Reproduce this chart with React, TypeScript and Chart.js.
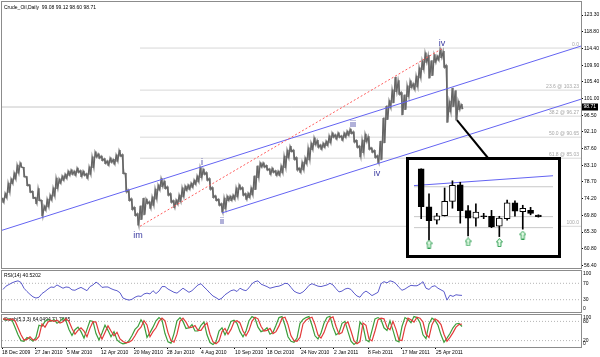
import React, { useEffect, useRef } from "react";
import { Chart, registerables } from "chart.js";

Chart.register(...registerables);

const FONT = '"Liberation Sans", Arial, sans-serif';

// ---------------- data ----------------
const priceHigh = [
  74.4, 75.7, 78.4, 79.5, 81.1, 83.2, 83.8, 82.6, 80.1, 77.9,
  76.2, 74.5, 76.9, 73.8, 72.3, 74.1, 75.2, 77.1, 79.7, 79.5,
  80.3, 80.8, 81.6, 81.9, 81.6, 82.4, 81.7, 81.6, 80.9, 82.7,
  85.4, 86.7, 86.2, 85.6, 84.9, 84.3, 85.1, 84.7, 85.9, 87.1,
  86.0, 81.0, 76.5, 74.2, 71.9, 70.2, 72.3, 74.4, 74.1, 73.4,
  74.7, 76.8, 77.9, 79.6, 78.9, 77.4, 75.6, 73.7, 73.9, 75.2,
  77.1, 77.6, 77.9, 78.4, 79.2, 80.3, 82.5, 82.1, 81.2, 79.6,
  77.2, 75.0, 74.1, 72.9, 74.4, 74.9, 74.9, 75.2, 77.1, 77.9,
  77.2, 75.6, 75.7, 77.1, 80.3, 83.0, 83.8, 83.8, 83.1, 82.2,
  82.4, 81.7, 81.6, 83.0, 85.6, 87.2, 88.2, 87.2, 85.2, 82.4,
  84.0, 85.1, 87.8, 89.1, 90.5, 89.8, 88.6, 89.1, 89.6, 91.0,
  91.8, 91.3, 91.8, 91.0, 91.8, 92.3, 92.8, 92.1, 89.8, 88.3,
  89.9, 91.5, 90.8, 87.8, 87.1, 85.7, 89.6, 95.8, 99.0, 100.4,
  103.3, 106.7, 105.8, 102.6, 102.0, 104.4, 105.7, 105.0, 107.0, 109.2,
  111.1, 113.2, 112.5, 111.1, 112.7, 112.4, 114.2, 113.6, 109.8, 100.3,
  103.8, 103.1, 100.3, 99.4
];
const priceLow = [
  73.2, 74.4, 75.9, 78.2, 79.4, 81.0, 82.6, 80.0, 77.7, 75.9,
  74.3, 72.9, 73.7, 69.6, 71.1, 72.0, 73.8, 74.9, 76.9, 78.3,
  79.1, 79.6, 80.4, 80.7, 80.4, 81.2, 80.1, 80.4, 79.6, 80.7,
  82.5, 85.3, 85.0, 84.4, 83.6, 83.1, 83.9, 83.4, 84.2, 85.6,
  80.9, 76.0, 73.7, 71.3, 69.7, 67.1, 68.6, 69.9, 72.9, 71.6,
  72.4, 74.1, 76.5, 77.4, 76.9, 75.1, 73.2, 71.8, 72.7, 73.4,
  74.7, 76.4, 76.7, 77.2, 78.0, 78.7, 79.8, 80.7, 79.1, 76.7,
  74.5, 73.7, 72.4, 70.6, 71.5, 73.7, 73.7, 74.0, 74.7, 76.7,
  75.1, 74.0, 74.5, 75.2, 76.6, 79.8, 82.6, 82.6, 81.8, 80.7,
  81.2, 80.4, 80.4, 81.1, 82.5, 85.1, 86.8, 84.7, 81.8, 81.2,
  81.9, 83.5, 84.6, 87.3, 88.6, 87.9, 87.4, 87.9, 88.4, 89.1,
  90.6, 90.1, 90.6, 89.8, 90.6, 91.1, 91.6, 89.3, 87.9, 85.4,
  86.5, 89.4, 87.4, 86.6, 85.2, 83.8, 84.6, 89.1, 95.3, 98.5,
  99.8, 102.8, 102.1, 96.6, 98.0, 101.5, 103.9, 103.4, 104.1, 106.5,
  108.7, 110.6, 106.4, 107.1, 110.6, 111.2, 111.9, 109.3, 94.6, 97.4,
  98.8, 95.2, 98.0, 98.2
];
const lastOHLC = [99.08, 99.12, 98.6, 98.71];

const rsiValues = [
  55, 63, 67, 71, 74, 76, 72, 58, 50, 43,
  37, 34, 36, 45, 50, 56, 61, 60, 66, 62,
  58, 61, 60, 54, 53, 57, 60, 56, 52, 62,
  66, 73, 68, 60, 61, 61, 57, 54, 52, 47,
  34, 31, 29, 31, 36, 39, 38, 44, 46, 44,
  52, 45, 51, 62, 62, 56, 52, 48, 46, 52,
  58, 53, 48, 52, 59, 66, 69, 61, 54, 46,
  39, 35, 30, 34, 42, 47, 52, 54, 50, 58,
  54, 52, 59, 69, 74, 76, 68, 65, 62, 58,
  60, 62, 63, 66, 70, 69, 60, 51, 47, 45,
  49, 56, 65, 69, 66, 63, 62, 64, 66, 70,
  66, 57, 49, 51, 56, 58, 55, 46, 39, 36,
  46, 51, 46, 40, 44, 48, 69, 74, 71, 76,
  74, 69, 60, 53, 56, 61, 65, 64, 64, 68,
  74, 58, 55, 62, 64, 58, 54, 50, 29, 41,
  38, 42, 41, 40.52
];
const stochSignal = [
  88, 87, 85, 88, 82, 60, 38, 22, 24, 32,
  22, 22, 33, 72, 62, 78, 83, 80, 84, 75,
  79, 88, 80, 58, 40, 52, 60, 50, 32, 59,
  79, 78, 45, 25, 45, 66, 50, 35, 46, 25,
  17, 13, 15, 21, 35, 52, 62, 82, 69, 32,
  48, 60, 80, 90, 82, 45, 20, 15, 40, 80,
  90, 78, 60, 62, 67, 52, 52, 66, 75, 40,
  16, 10, 18, 48, 58, 40, 55, 78, 82, 75,
  50, 35, 52, 80, 93, 88, 65, 50, 52, 58,
  42, 48, 66, 90, 93, 70, 35, 20, 18, 30,
  72, 84, 90, 93, 70, 38, 28, 45, 72, 90,
  94, 65, 40, 45, 72, 78, 50, 20, 10, 17,
  75, 68, 25, 19, 50, 85, 90, 88, 62, 54,
  80, 55, 22, 20, 62, 90, 85, 78, 93, 90,
  78, 40, 30, 70, 88, 82, 70, 40, 18, 30,
  45, 62, 70, 71.77
];
const stochMain = [
  87, 85, 88, 84, 62, 38, 20, 18, 30, 25,
  18, 30, 68, 65, 80, 86, 80, 86, 74, 80,
  90, 82, 55, 36, 54, 62, 48, 28, 55, 82,
  80, 42, 22, 44, 68, 52, 32, 48, 22, 14,
  10, 12, 20, 36, 55, 64, 85, 70, 30, 45,
  62, 82, 92, 84, 42, 16, 12, 42, 82, 92,
  80, 58, 60, 70, 50, 50, 68, 78, 38, 14,
  8, 16, 50, 60, 38, 56, 80, 84, 74, 48,
  32, 50, 82, 95, 90, 62, 48, 52, 60, 40,
  46, 68, 92, 95, 68, 32, 18, 15, 28, 74,
  86, 92, 95, 68, 35, 25, 44, 74, 92, 96,
  62, 38, 44, 74, 80, 48, 18, 8, 15, 78,
  66, 22, 16, 52, 88, 92, 86, 60, 52, 82,
  52, 20, 16, 64, 92, 86, 76, 95, 92, 76,
  38, 26, 72, 90, 84, 68, 38, 15, 28, 42,
  60, 72, 74, 64.05
];

const yTickValues = [123.3, 118.8, 114.4, 109.9, 105.4, 101.0, 96.5, 92.1, 87.6, 83.1, 78.7, 74.2, 69.8, 65.3, 60.8, 56.4];
const dateLabels = ["18 Dec 2009", "27 Jan 2010", "5 Mar 2010", "12 Apr 2010", "20 May 2010", "28 Jun 2010", "4 Aug 2010", "10 Sep 2010", "18 Oct 2010", "24 Nov 2010", "2 Jan 2011", "8 Feb 2011", "17 Mar 2011", "25 Apr 2011"];
const dateTickPos = [-0.33, 10.67, 21.33, 32.67, 43.67, 54.67, 66, 77.33, 88, 99.33, 110.33, 121.67, 133, 144.33];

const trendUpperX = [-0.33, 192.67];
const trendUpperY = [65.76, 115.0];
const trendLowerX = [73, 192.67];
const trendLowerY = [70.4, 100.8];
const impulseX = [45.67, 146.67];
const impulseY = [66.83, 114.47];
const fibLevels = [0, 23.6, 38.2, 50, 61.8, 100];

const waveText = ["im", "i", "ii", "iii", "iv", "iv"];
const waveX = [45, 66.33, 73, 116.67, 124.67, 146.33];
const waveY = [64.4, 84.0, 68.2, 93.9, 81.0, 115.8];
const calloutFrom = [151.33, 95.2];

const rsiLevels = [70, 30];
const rsiAxisLabels = [100, 70, 30, 0];
const stochLevels = [80, 20];
const stochAxisLabels = [100, 80, 20, 0];

// inset (zoom of last bars)
const insetOpen = [109.39, 100.91, 97.91, 98.91, 102.11, 105.79, 100.05, 98.39, 98.9, 98.79, 96.59, 98.25, 101.79, 99.79, 100.11, 99.08];
const insetHigh = [109.39, 103.79, 99.45, 105.11, 106.71, 106.39, 101.19, 101.59, 99.45, 100.11, 98.79, 102.39, 102.25, 101.25, 100.79, 99.12];
const insetLow = [98.25, 93.45, 97.05, 98.85, 100.59, 97.25, 94.39, 96.59, 98.25, 96.25, 94.25, 97.91, 98.79, 95.91, 99.11, 98.6];
const insetClose = [100.91, 97.79, 98.91, 102.11, 105.71, 100.05, 98.39, 99.71, 98.7, 96.39, 98.39, 101.79, 99.91, 100.59, 99.45, 98.71];
const insetArrowIdx = [1, 6, 10, 13];
const insetArrowVal = [92.59, 93.05, 92.91, 94.59];
const insetLineX = [-0.92, 16.87];
const insetLineY = [105.65, 107.85];
const insetLevels = [105.39, 98.71, 96.25];

// ---------------- layout ----------------
const X_MIN = -1 / 3;
const X_MAX = 192.67;
const Y_MIN = 55.68;
const Y_MAX = 126.78;
const INSET = { left: 406, top: 157, w: 149, h: 95, border: 3 };

const pts = (xs: number[], ys: number[]) => xs.map((x, i) => ({ x, y: ys[i] }));
const fibVal = (l: number) => impulseY[1] - ((impulseY[1] - impulseY[0]) * l) / 100;

const frameStroke = (chart: any) => {
  const { ctx, chartArea: a } = chart;
  ctx.save();
  ctx.strokeStyle = "#8c8c8c";
  ctx.lineWidth = 1;
  ctx.strokeRect(a.left - 0.5, a.top - 0.5, a.right - a.left + 1, a.bottom - a.top + 1);
  ctx.restore();
};

const mainDeco = {
  id: "mainDeco",
  afterDatasetsDraw(chart: any) {
    const { ctx, chartArea: a, scales } = chart;
    const xs = scales.x;
    const ys = scales.y;
    ctx.save();
    ctx.beginPath();
    ctx.rect(a.left, a.top, a.right - a.left, a.bottom - a.top);
    ctx.clip();
    ctx.font = `5px ${FONT}`;
    ctx.fillStyle = "#a6a6a6";
    ctx.textAlign = "right";
    ctx.textBaseline = "bottom";
    fibLevels.forEach((l) => {
      const v = fibVal(l);
      const t = l === 0 || l === 100 ? l.toFixed(1) : `${l.toFixed(1)} @ ${v.toFixed(2)}`;
      ctx.fillText(t, a.right - 2, ys.getPixelForValue(v) - 1);
    });
    ctx.font = `9px ${FONT}`;
    ctx.fillStyle = "#3a3aa0";
    ctx.textAlign = "center";
    ctx.textBaseline = "middle";
    waveText.forEach((t, i) => {
      ctx.fillText(t, xs.getPixelForValue(waveX[i]), ys.getPixelForValue(waveY[i]));
    });
    ctx.strokeStyle = "#000";
    ctx.lineWidth = 2;
    ctx.beginPath();
    ctx.moveTo(xs.getPixelForValue(calloutFrom[0]), ys.getPixelForValue(calloutFrom[1]));
    ctx.lineTo(INSET.left + 82, INSET.top + 1);
    ctx.stroke();
    ctx.restore();

    ctx.save();
    ctx.font = `5px ${FONT}`;
    ctx.fillStyle = "#000";
    ctx.textAlign = "left";
    ctx.textBaseline = "top";
    ctx.fillText(
      `Crude_Oil,Daily  ${lastOHLC.map((v) => v.toFixed(2)).join(" ")}`,
      a.left + 2,
      a.top + 3
    );
    ctx.restore();
  },
  afterDraw(chart: any) {
    const { ctx, chartArea: a, scales } = chart;
    frameStroke(chart);
    const py = scales.y.getPixelForValue(lastOHLC[3]);
    ctx.save();
    ctx.fillStyle = "#000";
    ctx.fillRect(a.right + 1, Math.round(py) - 3.5, 16, 7);
    ctx.fillStyle = "#fff";
    ctx.font = `5px ${FONT}`;
    ctx.textAlign = "left";
    ctx.textBaseline = "middle";
    ctx.fillText(lastOHLC[3].toFixed(2), a.right + 2.5, Math.round(py));
    ctx.restore();
  },
};

const panelDeco = (title: string, labels: number[]) => ({
  id: "panelDeco",
  beforeDatasetsDraw(chart: any) {
    const { ctx, chartArea: a } = chart;
    ctx.save();
    ctx.font = `5px ${FONT}`;
    ctx.fillStyle = "#000";
    ctx.textAlign = "left";
    ctx.textBaseline = "top";
    ctx.fillText(title, a.left + 2, a.top + 2);
    ctx.restore();
  },
  afterDraw(chart: any) {
    const { ctx, chartArea: a, scales } = chart;
    frameStroke(chart);
    ctx.save();
    ctx.font = `5px ${FONT}`;
    ctx.fillStyle = "#000";
    ctx.textAlign = "left";
    ctx.textBaseline = "middle";
    labels.forEach((v) => {
      let y = scales.y.getPixelForValue(v);
      y = Math.max(a.top + 3, Math.min(a.bottom - 3, y));
      ctx.fillText(String(v), a.right + 2, y);
    });
    ctx.restore();
  },
});

const hiddenX = { type: "linear", min: X_MIN, max: X_MAX, display: false, offset: false, grid: { offset: false } };
const baseOptions = {
  responsive: false,
  animation: false,
  devicePixelRatio: 1,
  events: [],
  plugins: { legend: { display: false }, tooltip: { enabled: false } },
};

const panelY = (min: number, max: number) => ({
  type: "linear",
  position: "right",
  min,
  max,
  ticks: { display: false },
  grid: { drawOnChartArea: false, drawTicks: false },
  border: { display: true, color: "#8c8c8c" },
  afterFit: (s: any) => {
    s.width = 19;
    s.paddingTop = 0;
    s.paddingBottom = 0;
  },
});

const levelLine = (v: number) => ({
  type: "line",
  data: [{ x: X_MIN, y: v }, { x: X_MAX, y: v }],
  borderColor: "#b4b4b4",
  borderDash: [1, 2],
  borderWidth: 1,
  pointRadius: 0,
  order: 20,
});

export default function App() {
  const mainRef = useRef<HTMLCanvasElement>(null);
  const rsiRef = useRef<HTMLCanvasElement>(null);
  const stochRef = useRef<HTMLCanvasElement>(null);
  const insetRef = useRef<HTMLCanvasElement>(null);

  useEffect(() => {
    const charts: Chart[] = [];

    // each bar's range is traced high -> low, so the daily bars read as one jagged stroke
    const barTrace: { x: number; y: number }[] = [];
    priceHigh.forEach((h, i) => {
      barTrace.push({ x: i - 0.3, y: h });
      barTrace.push({ x: i + 0.3, y: priceLow[i] });
    });

    charts.push(
      new Chart(mainRef.current as any, {
        type: "bar",
        data: {
          datasets: [
            ...fibLevels.map((l) => ({
              type: "line",
              data: [{ x: impulseX[0], y: fibVal(l) }, { x: X_MAX, y: fibVal(l) }],
              borderColor: "#d8d8d8",
              borderWidth: 1,
              pointRadius: 0,
              order: 30,
            })),
            {
              type: "line",
              data: [{ x: X_MIN, y: lastOHLC[3] }, { x: X_MAX, y: lastOHLC[3] }],
              borderColor: "#c6c6c6",
              borderWidth: 1,
              pointRadius: 0,
              order: 29,
            },
            {
              type: "bar",
              data: priceHigh.map((h, i) => ({ x: i, y: [priceLow[i], h] })),
              backgroundColor: "#7a7a7a",
              barThickness: 1,
              order: 11,
            },
            {
              type: "line",
              data: barTrace,
              borderColor: "#666666",
              borderWidth: 1.3,
              pointRadius: 0,
              order: 10,
            },
            {
              type: "line",
              data: pts(trendUpperX, trendUpperY),
              borderColor: "#6464f2",
              borderWidth: 1,
              pointRadius: 0,
              order: 3,
            },
            {
              type: "line",
              data: pts(trendLowerX, trendLowerY),
              borderColor: "#6464f2",
              borderWidth: 1,
              pointRadius: 0,
              order: 3,
            },
            {
              type: "line",
              data: pts(impulseX, impulseY),
              borderColor: "#ff5c5c",
              borderDash: [2, 2],
              borderWidth: 1,
              pointRadius: 0,
              order: 2,
            },
          ],
        } as any,
        options: {
          ...baseOptions,
          layout: { padding: { left: 2, top: 2, right: 0, bottom: 1 } },
          scales: {
            x: hiddenX,
            y: {
              type: "linear",
              position: "right",
              min: Y_MIN,
              max: Y_MAX,
              afterBuildTicks: (s: any) => {
                s.ticks = yTickValues.map((v) => ({ value: v }));
              },
              afterFit: (s: any) => {
                s.width = 19;
                s.paddingTop = 0;
                s.paddingBottom = 0;
              },
              ticks: {
                autoSkip: false,
                font: { size: 5, family: FONT },
                color: "#000",
                padding: 1,
                callback: (v: any) => Number(v).toFixed(2),
              },
              grid: { drawOnChartArea: false, tickLength: 2, color: "#000" },
              border: { color: "#8c8c8c" },
            },
          },
        } as any,
        plugins: [mainDeco],
      })
    );

    charts.push(
      new Chart(rsiRef.current as any, {
        type: "line",
        data: {
          datasets: [
            ...rsiLevels.map(levelLine),
            {
              data: rsiValues.map((v, i) => ({ x: i, y: v })),
              borderColor: "#5a5acb",
              borderWidth: 1,
              pointRadius: 0,
              order: 1,
            },
          ],
        } as any,
        options: {
          ...baseOptions,
          layout: { padding: { left: 2, top: 1, right: 0, bottom: 1 } },
          scales: { x: hiddenX, y: panelY(0, 100) },
        } as any,
        plugins: [panelDeco("RSI(14) 40.5202", rsiAxisLabels)],
      })
    );

    charts.push(
      new Chart(stochRef.current as any, {
        type: "line",
        data: {
          datasets: [
            ...stochLevels.map(levelLine),
            {
              data: stochMain.map((v, i) => ({ x: i, y: v })),
              borderColor: "#3c9e3c",
              borderWidth: 1.2,
              pointRadius: 0,
              order: 2,
            },
            {
              data: stochSignal.map((v, i) => ({ x: i, y: v })),
              borderColor: "#e23a3a",
              borderWidth: 1.2,
              pointRadius: 0,
              order: 1,
            },
          ],
        } as any,
        options: {
          ...baseOptions,
          layout: { padding: { left: 2, top: 1, right: 0, bottom: 0 } },
          scales: {
            x: {
              type: "linear",
              min: X_MIN,
              max: X_MAX,
              offset: false,
              position: "bottom",
              afterBuildTicks: (s: any) => {
                s.ticks = dateTickPos.map((v) => ({ value: v }));
              },
              afterFit: (s: any) => {
                s.height = 10;
                s.paddingLeft = 0;
                s.paddingRight = 0;
              },
              ticks: {
                autoSkip: false,
                maxRotation: 0,
                minRotation: 0,
                align: "start",
                font: { size: 5, family: FONT },
                color: "#000",
                padding: 1,
                callback: (_v: any, i: number) => dateLabels[i],
              },
              grid: { drawOnChartArea: false, tickLength: 2, color: "#000", offset: false },
              border: { color: "#8c8c8c" },
            },
            y: panelY(0, 100),
          },
        } as any,
        plugins: [panelDeco("Stoch(5,3,3) 64.0494 71.7685", stochAxisLabels)],
      })
    );

    const arrow = document.createElement("canvas");
    arrow.width = 7;
    arrow.height = 9;
    const ac = arrow.getContext("2d");
    if (ac) {
      ac.beginPath();
      ac.moveTo(3.5, 0.5);
      ac.lineTo(6.5, 4);
      ac.lineTo(5, 4);
      ac.lineTo(5, 8.5);
      ac.lineTo(2, 8.5);
      ac.lineTo(2, 4);
      ac.lineTo(0.5, 4);
      ac.closePath();
      ac.fillStyle = "#ecffec";
      ac.fill();
      ac.strokeStyle = "#2f9e52";
      ac.lineWidth = 1;
      ac.stroke();
    }

    charts.push(
      new Chart(insetRef.current as any, {
        type: "bar",
        data: {
          datasets: [
            ...insetLevels.map((v) => ({
              type: "line",
              data: [{ x: insetLineX[0], y: v }, { x: insetLineX[1], y: v }],
              borderColor: "#c8c8c8",
              borderWidth: 1,
              pointRadius: 0,
              order: 30,
            })),
            {
              type: "line",
              data: pts(insetLineX, insetLineY),
              borderColor: "#6464f2",
              borderWidth: 1,
              pointRadius: 0,
              order: 20,
            },
            {
              type: "bar",
              data: insetHigh.map((h, i) => ({ x: i, y: [insetLow[i], h] })),
              backgroundColor: "#000",
              barThickness: 1,
              grouped: false,
              order: 10,
            },
            {
              type: "bar",
              data: insetOpen.map((o, i) => ({ x: i, y: [o, insetClose[i]] })),
              backgroundColor: insetOpen.map((o, i) => (insetClose[i] < o ? "#000" : "#fff")),
              borderColor: "#000",
              borderWidth: 1,
              borderSkipped: false,
              barThickness: 6,
              grouped: false,
              order: 5,
            },
            {
              type: "line",
              data: insetArrowIdx.map((x, k) => ({ x, y: insetArrowVal[k] })),
              showLine: false,
              pointStyle: arrow,
              pointRadius: 4,
              order: 1,
            },
          ],
        } as any,
        options: {
          ...baseOptions,
          layout: { padding: 0 },
          scales: {
            x: { type: "linear", min: insetLineX[0], max: insetLineX[1], display: false, offset: false, grid: { offset: false } },
            y: { type: "linear", min: 91.25, max: 110.25, display: false },
          },
        } as any,
      })
    );

    return () => {
      charts.forEach((c) => c.destroy());
    };
  }, []);

  return (
    <div
      style={{
        position: "fixed",
        left: 0,
        top: 0,
        width: 600,
        height: 357,
        background: "#fff",
        overflow: "hidden",
      }}
    >
      <canvas ref={mainRef} width={600} height={269} style={{ position: "absolute", left: 0, top: 0 }} />
      <canvas ref={rsiRef} width={600} height={43} style={{ position: "absolute", left: 0, top: 270 }} />
      <canvas ref={stochRef} width={600} height={43} style={{ position: "absolute", left: 0, top: 314 }} />
      <div
        style={{
          position: "absolute",
          left: INSET.left,
          top: INSET.top,
          width: INSET.w,
          height: INSET.h,
          border: `${INSET.border}px solid #000`,
          background: "#fff",
        }}
      >
        <canvas ref={insetRef} width={INSET.w} height={INSET.h} style={{ display: "block" }} />
      </div>
    </div>
  );
}
